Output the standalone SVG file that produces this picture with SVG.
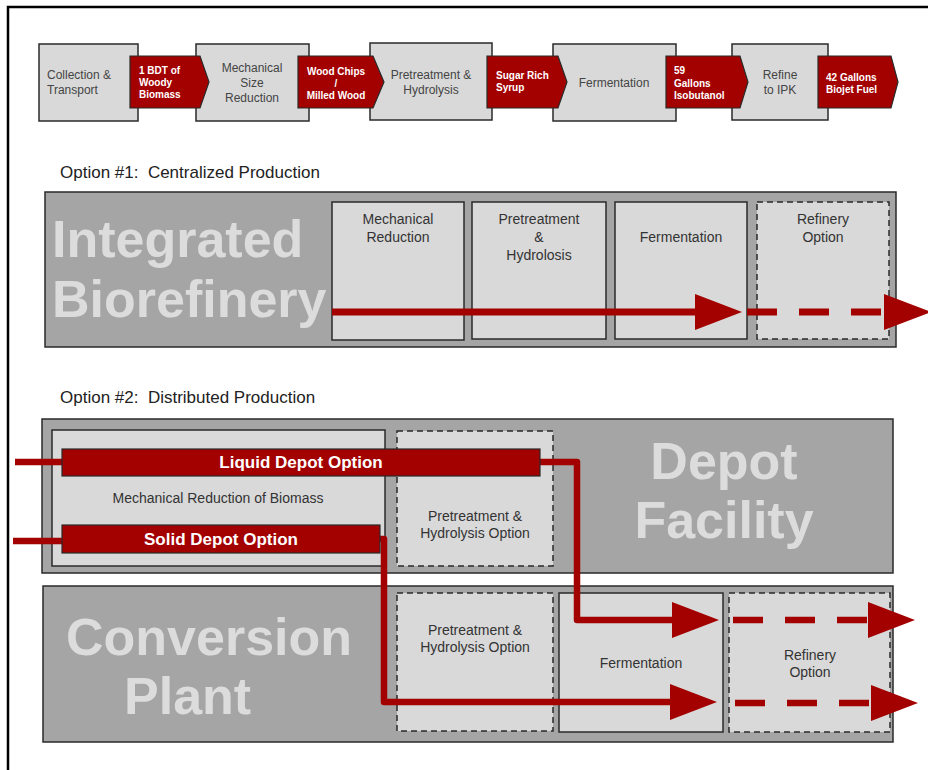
<svg xmlns="http://www.w3.org/2000/svg" width="928" height="770" viewBox="0 0 928 770">
<style>
.bg{fill:#ffffff}
.frame{fill:none;stroke:#000;stroke-width:2.5}
.box{fill:#d9d9d9;stroke:#2a2a2a;stroke-width:1.5}
.dbox{fill:#d9d9d9;stroke:#2a2a2a;stroke-width:1.5;stroke-dasharray:6 4}
.outer{fill:#a5a5a5;stroke:#2a2a2a;stroke-width:1.5}
.flag{fill:#a30000;stroke:#2a2a2a;stroke-width:1.2}
.bar{fill:#a30000;stroke:#2a2a2a;stroke-width:1.2}
.t{font-family:"Liberation Sans",Arial,sans-serif;fill:#444;font-size:12px}
.tc{text-anchor:middle}
.ft{font-family:"Liberation Sans",Arial,sans-serif;fill:#fff;font-size:10px;font-weight:bold}
.it{font-family:"Liberation Sans",Arial,sans-serif;fill:#333;font-size:14px;text-anchor:middle}
.big{font-family:"Liberation Sans",Arial,sans-serif;fill:#dcdcdc;font-size:52px;font-weight:bold}
.opt{font-family:"Liberation Sans",Arial,sans-serif;fill:#222;font-size:17px;white-space:pre}
.bt{font-family:"Liberation Sans",Arial,sans-serif;fill:#fff;font-size:17px;font-weight:bold;text-anchor:middle}
.ln{fill:none;stroke:#a30000;stroke-width:7;stroke-linejoin:round}
.ln2{fill:none;stroke:#a30000;stroke-width:6.5;stroke-linejoin:round}
.dash{stroke-dasharray:30 22}
</style>
<defs>
<marker id="ah" markerUnits="userSpaceOnUse" markerWidth="48" markerHeight="36" refX="0" refY="18" orient="auto" overflow="visible">
<path d="M0,0 L47,18 L0,36 Z" fill="#a30000"/>
</marker>
</defs>
<rect class="bg" x="0" y="0" width="928" height="770"/>
<path class="frame" d="M8,775 V7 H935"/>

<g id="top-row">
<g id="collection"><rect class="box" x="39" y="44" width="99" height="77"/>
<text class="t" x="47" y="79">Collection &amp;</text><text class="t" x="47" y="94">Transport</text></g>
<g id="mech-size"><rect class="box" x="196" y="44" width="113" height="77"/>
<text class="t tc" x="252" y="72">Mechanical</text><text class="t tc" x="252" y="87">Size</text><text class="t tc" x="252" y="102">Reduction</text></g>
<g id="pretreat-top"><rect class="box" x="370" y="43" width="122" height="77"/>
<text class="t tc" x="431" y="79">Pretreatment &amp;</text><text class="t tc" x="431" y="94">Hydrolysis</text></g>
<g id="ferment-top"><rect class="box" x="553" y="44" width="123" height="77"/>
<text class="t tc" x="614" y="87">Fermentation</text></g>
<g id="refine-top"><rect class="box" x="732" y="44" width="96" height="76"/>
<text class="t tc" x="780" y="79">Refine</text><text class="t tc" x="780" y="94">to IPK</text></g>

<g id="flag-biomass"><polygon class="flag" points="130,56 200,56 209,82 200,108 130,108"/>
<text class="ft" x="139" y="74">1 BDT of</text><text class="ft" x="139" y="86">Woody</text><text class="ft" x="139" y="98">Biomass</text></g>
<g id="flag-chips"><polygon class="flag" points="298,56 373,56 384,82 373,108 298,108"/>
<text class="ft tc" x="336" y="75">Wood Chips</text><text class="ft tc" x="336" y="87">/</text><text class="ft tc" x="336" y="99">Milled Wood</text></g>
<g id="flag-syrup"><polygon class="flag" points="487,56 558,56 567,82 558,108 487,108"/>
<text class="ft" x="496" y="79">Sugar Rich</text><text class="ft" x="496" y="91">Syrup</text></g>
<g id="flag-isobutanol"><polygon class="flag" points="666,56 740,56 748,82 740,108 666,108"/>
<text class="ft" x="674" y="74">59</text><text class="ft" x="674" y="87">Gallons</text><text class="ft" x="674" y="99">Isobutanol</text></g>
<g id="flag-biojet"><polygon class="flag" points="818,56 891,56 898,82 891,108 818,108"/>
<text class="ft" x="826" y="81">42 Gallons</text><text class="ft" x="826" y="93">Biojet Fuel</text></g>
</g>

<text class="opt" x="60" y="178">Option #1:  Centralized Production</text>

<g id="integrated-biorefinery">
<rect class="outer" x="45" y="192" width="851" height="155"/>
<text class="big" x="52" y="257">Integrated</text>
<text class="big" x="52" y="317">Biorefinery</text>
</g>
<g id="ib-mech"><rect class="box" x="332" y="202" width="132" height="138"/>
<text class="it" x="398" y="224">Mechanical</text><text class="it" x="398" y="242">Reduction</text></g>
<g id="ib-pretreat"><rect class="box" x="472" y="202" width="134" height="137"/>
<text class="it" x="539" y="224">Pretreatment</text><text class="it" x="539" y="242">&amp;</text><text class="it" x="539" y="260">Hydrolosis</text></g>
<g id="ib-ferment"><rect class="box" x="615" y="202" width="132" height="137"/>
<text class="it" x="681" y="242">Fermentation</text></g>
<g id="ib-refinery"><rect class="dbox" x="757" y="202" width="132" height="137"/>
<text class="it" x="823" y="224">Refinery</text><text class="it" x="823" y="242">Option</text></g>

<text class="opt" x="60" y="403">Option #2:  Distributed Production</text>

<g id="depot-facility">
<rect class="outer" x="42" y="419" width="851" height="154"/>
<text class="big tc" x="724" y="479" text-anchor="middle">Depot</text>
<text class="big" x="724" y="538" text-anchor="middle">Facility</text>
</g>
<g id="depot-mech"><rect class="box" x="52" y="430" width="333" height="136"/>
<text class="it" x="218" y="503">Mechanical Reduction of Biomass</text></g>
<g id="depot-pretreat"><rect class="dbox" x="397" y="431" width="156" height="135"/>
<text class="it" x="475" y="521">Pretreatment &amp;</text><text class="it" x="475" y="538">Hydrolysis Option</text></g>

<g id="conversion-plant">
<rect class="outer" x="43" y="586" width="850" height="156"/>
<text class="big" x="66" y="655">Conversion</text>
<text class="big" x="124" y="714">Plant</text>
</g>
<g id="cp-pretreat"><rect class="dbox" x="397" y="593" width="156" height="138"/>
<text class="it" x="475" y="635">Pretreatment &amp;</text><text class="it" x="475" y="652">Hydrolysis Option</text></g>
<g id="cp-ferment"><rect class="box" x="559" y="593" width="164" height="139"/>
<text class="it" x="641" y="668">Fermentation</text></g>
<g id="cp-refinery"><rect class="dbox" x="729" y="593" width="161" height="139"/>
<text class="it" x="810" y="660">Refinery</text><text class="it" x="810" y="677">Option</text></g>

<g id="connectors">
<path class="ln" d="M332,312 H695" marker-end="url(#ah)"/>
<path class="ln dash" d="M747,312 H884" marker-end="url(#ah)"/>
<path class="ln2" d="M15,462 H64"/>
<path class="ln2" d="M13,541 H64"/>
<path class="ln2" d="M538,462 H577 V620 H672" marker-end="url(#ah)"/>
<path class="ln2 dash" d="M733,620 H868" marker-end="url(#ah)"/>
<path class="ln2" d="M378,539 H384 V702 H670" marker-end="url(#ah)"/>
<path class="ln2 dash" d="M735,703 H871" marker-end="url(#ah)"/>
</g>

<g id="liquid-depot"><rect class="bar" x="62" y="449" width="478" height="27"/>
<text class="bt" x="301" y="468">Liquid Depot Option</text></g>
<g id="solid-depot"><rect class="bar" x="62" y="525" width="318" height="28"/>
<text class="bt" x="221" y="545">Solid Depot Option</text></g>
</svg>
